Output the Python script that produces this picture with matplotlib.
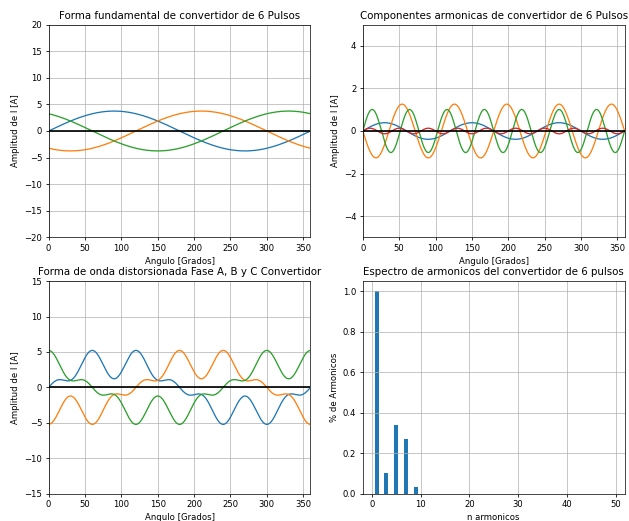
import numpy as np
import matplotlib
matplotlib.use("Agg")
from matplotlib import pyplot as plt

plt.rcParams.update({
    'font.size': 8.5,
    'axes.titlesize': 10.2,
    'axes.labelsize': 8.5,
    'xtick.labelsize': 8.5,
    'ytick.labelsize': 8.5,
    'lines.linewidth': 1.3,
    'xtick.major.size': 3,
    'ytick.major.size': 3,
    'axes.linewidth': 0.7,
    'grid.linewidth': 0.7,
})

# corriente pico de la fundamental [A]
I_PICO = 3.75
# ordenes armonicos y su magnitud relativa a la fundamental
orden = [1, 3, 5, 7, 9]
relativo = [1.0, 0.104, 0.337, 0.27, 0.035]
signo = [1, 1, -1, 1, 1]
# desfase de las fases A, B y C [grados]
desfase = [0, 120, -120]

# espectro completo n = 1..49 (solo los impares bajos tienen valor)
n_armonicos = np.arange(1, 50)
espectro = np.zeros(len(n_armonicos))
for n, r in zip(orden, relativo):
    espectro[n - 1] = r

angulo = np.linspace(0, 360, 1000)
rad = np.deg2rad(angulo)


def componente(n, r, s, fase):
    return I_PICO * r * s * np.sin(n * (rad - np.deg2rad(fase)))


fig, axs = plt.subplots(2, 2, figsize=(629 / 72, 521 / 72), dpi=72)
plt.subplots_adjust(left=0.0774, right=0.993, top=0.9526, bottom=0.0524,
                    wspace=0.2, hspace=0.206)

# fundamental de las tres fases
ax = axs[0, 0]
for f in desfase:
    ax.plot(angulo, componente(orden[0], relativo[0], signo[0], f))
ax.plot(angulo, 0 * angulo, 'k', lw=1.7)
ax.set_title('Forma fundamental de convertidor de 6 Pulsos')
ax.set_xlabel('Angulo [Grados]')
ax.set_ylabel('Amplitud de I [A]')
ax.set_xlim(0, 360)
ax.set_ylim(-20, 20)
ax.grid(True)

# armonicos de la fase A
ax = axs[0, 1]
for n, r, s in zip(orden[1:], relativo[1:], signo[1:]):
    ax.plot(angulo, componente(n, r, s, 0))
ax.plot(angulo, 0 * angulo, 'k', lw=1.7)
ax.set_title('Componentes armonicas de convertidor de 6 Pulsos')
ax.set_xlabel('Angulo [Grados]')
ax.set_ylabel('Amplitud de I [A]')
ax.set_xlim(0, 360)
ax.set_ylim(-5, 5)
ax.grid(True)

# suma de fundamental + armonicos por fase
ax = axs[1, 0]
for f in desfase:
    total = sum(componente(n, r, s, f) for n, r, s in zip(orden, relativo, signo))
    ax.plot(angulo, total)
ax.plot(angulo, 0 * angulo, 'k', lw=1.7)
ax.set_title('Forma de onda distorsionada Fase A, B y C Convertidor')
ax.set_xlabel('Angulo [Grados]')
ax.set_ylabel('Amplitud de I [A]')
ax.set_xlim(0, 360)
ax.set_ylim(-15, 15)
ax.grid(True)

# espectro
ax = axs[1, 1]
ax.bar(n_armonicos, espectro, width=0.8)
ax.set_title('Espectro de armonicos del convertidor de 6 pulsos')
ax.set_xlabel('n armonicos')
ax.set_ylabel('% de Armonicos')
ax.grid(True)

plt.savefig('out.png', dpi=72)
